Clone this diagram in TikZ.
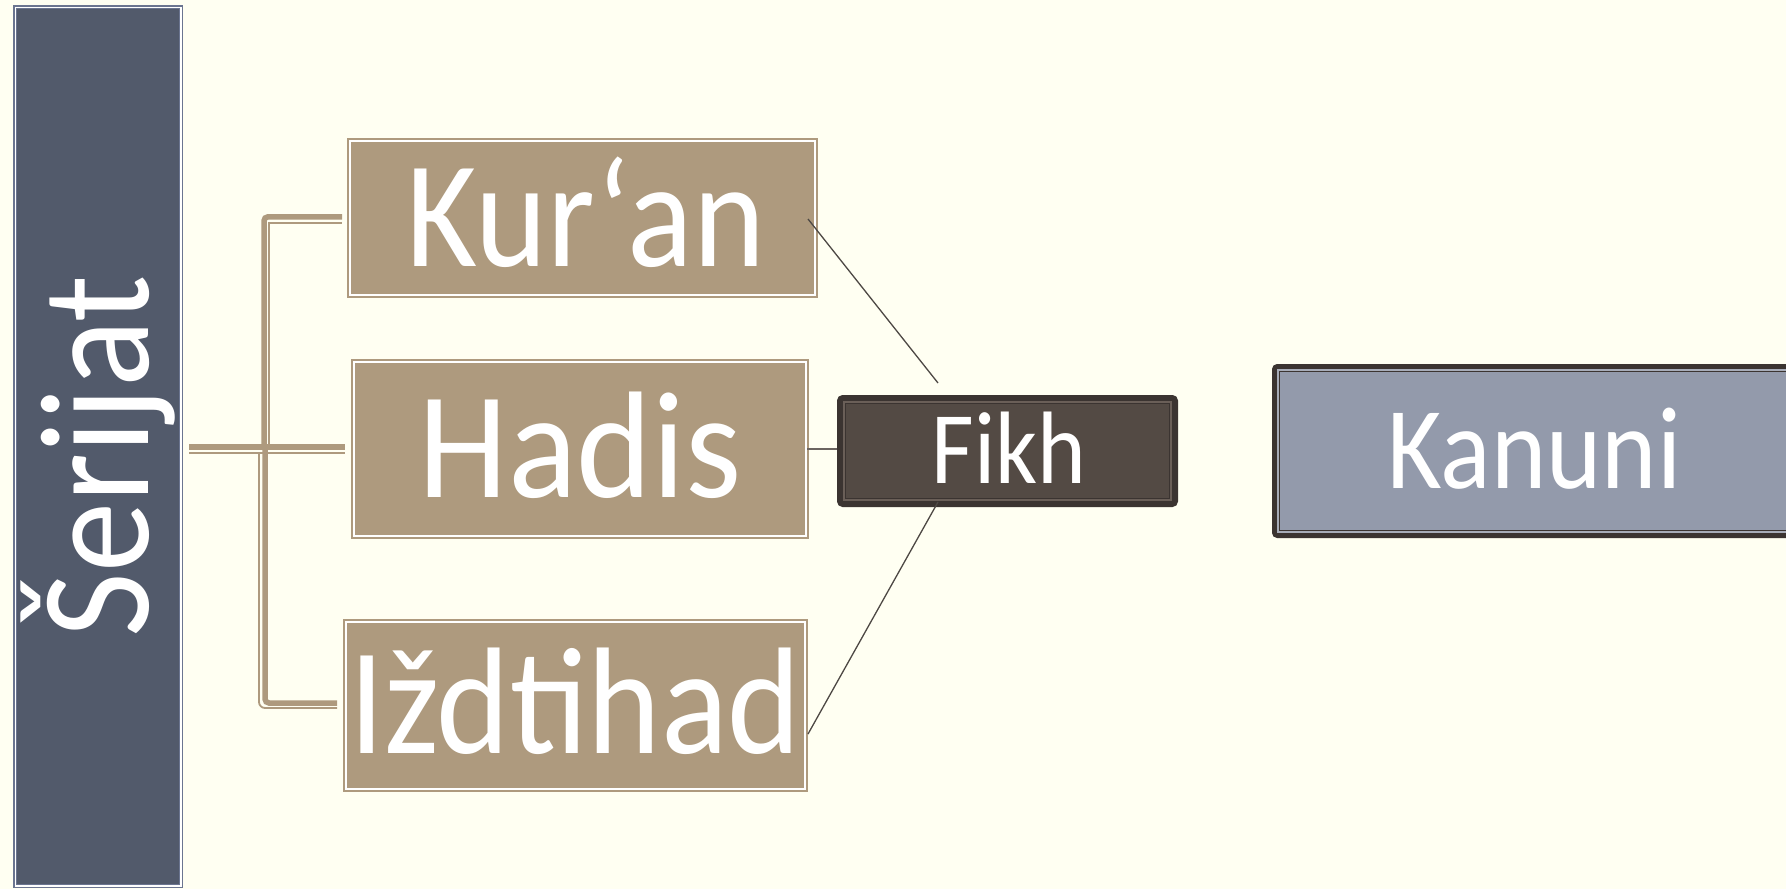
\documentclass[tikz,border=0pt]{standalone}
\usepackage{fontspec}
\setmainfont[FakeStretch=0.9]{Carlito}
\usetikzlibrary{calc}
\definecolor{bg}{HTML}{FFFFF2}
\definecolor{tanc}{HTML}{AE9A7E}
\definecolor{slatec}{HTML}{525A6B}
\definecolor{slateline}{HTML}{6B7590}
\definecolor{dk}{HTML}{3B3431}
\definecolor{brownf}{HTML}{534A44}
\definecolor{brownl}{HTML}{6A5F58}
\definecolor{kanc}{HTML}{939AAB}
\definecolor{kanl}{HTML}{A7ACB8}
\definecolor{conn}{HTML}{4D4844}
\definecolor{conn2}{HTML}{6B6460}
\begin{document}
\begin{tikzpicture}[x=1pt,y=-1pt,
  slatebox/.style={draw=slateline, double=white, line width=1.5pt, double distance=1.2pt, fill=slatec, inner sep=0pt},
  tanbox/.style={draw=tanc, double=white, line width=1.7pt, double distance=2.3pt, fill=tanc, inner sep=0pt,
    text=white, font=\fontsize{152}{152}\selectfont, text height=96pt, text depth=0pt},
  fikhbox/.style={draw=dk, line width=6pt, fill=brownf, rounded corners=3pt, inner sep=0pt,
    text=white, font=\fontsize{103}{103}\selectfont, text height=65pt, text depth=0pt},
  kanbox/.style={draw=dk, line width=5pt, fill=kanc, rounded corners=3pt, inner sep=0pt,
    text=white, font=\fontsize{117}{117}\selectfont, text height=74pt, text depth=0pt},
  thinconn/.style={draw=conn, line width=1.3pt},
  brkthick/.style={draw=tanc, line width=5.5pt},
  brkthin/.style={draw=tanc, line width=1.8pt}
]
\useasboundingbox (0,0) rectangle (1786,889);
\fill[bg] (0,0) rectangle (1786,889);
\clip (0,0) rectangle (1786,889);

% left column
\node[slatebox, minimum width=165.8pt, minimum height=878.8pt] (serijat) at (98,446.5) {};
\node[rotate=90, anchor=base, inner sep=0pt, text=white, font=\fontsize{156}{156}\selectfont] (serlbl) at (148,456) {Šerijat};

% tan boxes
\node[tanbox, minimum width=465.3pt, minimum height=154.3pt] (kuran) at (582.5,218) {\hspace*{6pt}Kur‘an};
\node[tanbox, minimum width=452.3pt, minimum height=174.3pt] (hadis) at (580,449) {\scalebox{1.05}[1]{Hadis}};
\node[tanbox, minimum width=459.3pt, minimum height=167.3pt] (izd) at (575.5,705.5) {\scalebox{1.02}[1]{Iždtihad}};

% Fikh
\node[fikhbox, minimum width=335pt, minimum height=106pt] (fikh) at (1007.5,451) {\hspace*{3pt}Fikh};
\draw[brownl, line width=1.4pt] ($(fikh.north west)+(7,7)$) rectangle ($(fikh.south east)+(-7,-7)$);
\draw[dk, line width=1pt] ($(fikh.north west)+(8.6,8.6)$) rectangle ($(fikh.south east)+(-8.6,-8.6)$);

% Kanuni
\node[kanbox, minimum width=518pt, minimum height=169pt] (kanuni) at (1533.5,451) {\hspace*{2pt}Kanuni};
\draw[kanl, line width=1.5pt] ($(kanuni.north west)+(5.8,5.8)$) rectangle ($(kanuni.south east)+(-5.8,-5.8)$);
\draw[dk, line width=1.4pt] ($(kanuni.north west)+(7.5,7.5)$) rectangle ($(kanuni.south east)+(-7.5,-7.5)$);

% bracket coordinates
\coordinate (mL) at (189,447);
\coordinate (mR) at (345,447);
\coordinate (mLt) at (189,453);
\coordinate (mRt) at (345,453);
\coordinate (jT) at (264,447);
\coordinate (tC) at (264,216.8);
\coordinate (tE) at (342,216.8);
\coordinate (jTt) at (269.2,444);
\coordinate (tCt) at (269.2,223.2);
\coordinate (tEt) at (342,223.2);
\coordinate (jB) at (265,447);
\coordinate (bC) at (265,703);
\coordinate (bE) at (337,703);
\coordinate (jBt) at (259,453);
\coordinate (bCt) at (259,708);
\coordinate (bEt) at (337,708);

\draw[brkthick] (mL) -- (mR);
\draw[brkthin] (mLt) -- (mRt);
\draw[brkthick, rounded corners=4pt] (jT) -- (tC) -- (tE);
\draw[brkthin] (jTt) -- (tCt) -- (tEt);
\draw[brkthick, rounded corners=4pt] (jB) -- (bC) -- (bE);
\draw[brkthin, rounded corners=6pt] (jBt) -- (bCt) -- (bEt);

% connectors to Fikh
\draw[thinconn] ($(kuran.east)+(-8,1)$) -- ($(fikh.north west)+(101,-12)$);
\draw[draw=conn2, line width=1.3pt] (hadis.east) -- (hadis.east -| fikh.west);
\draw[thinconn] ($(izd.east)+(2,28.5)$) -- ($(fikh.south west)+(101,-5)$);
\end{tikzpicture}
\end{document}
